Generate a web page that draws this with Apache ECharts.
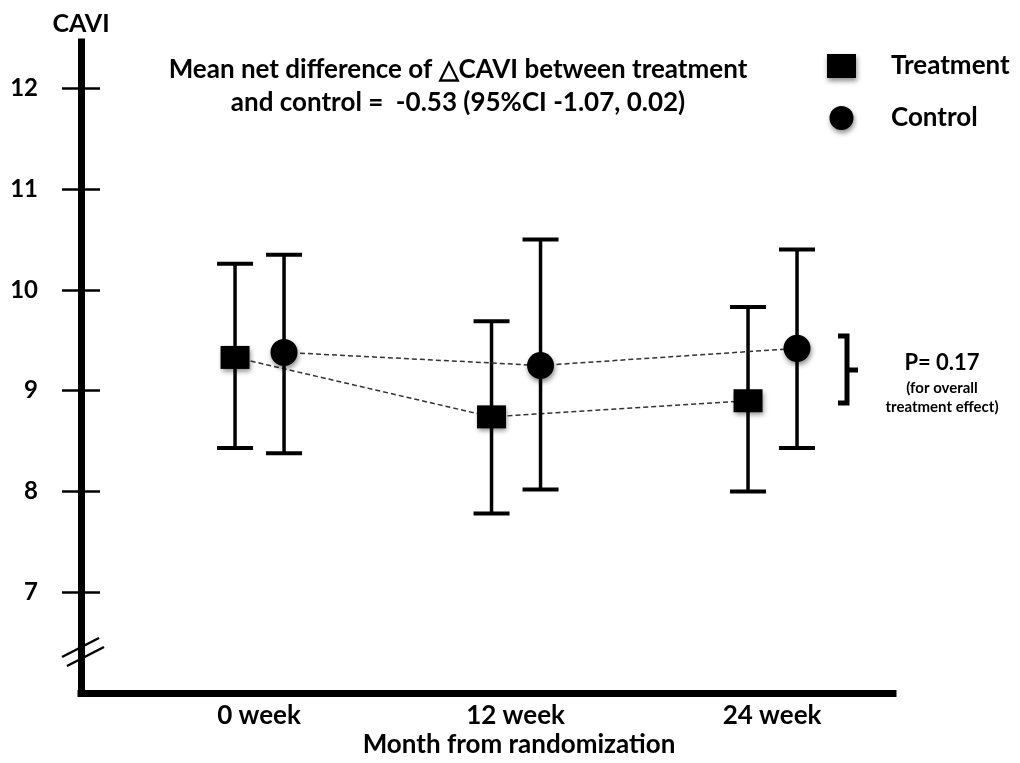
<!DOCTYPE html>
<html>
<head>
<meta charset="utf-8">
<script src="https://cdn.jsdelivr.net/npm/echarts@6/dist/echarts.min.js"></script>
<style>
  html, body { margin: 0; padding: 0; background: #fff; }
  #chart { width: 1020px; height: 763px; }
</style>
</head>
<body>
<div id="chart"></div>
<script>
// visit weeks and group summaries (mean with CI)
const weeks = [0, 12, 24];
const weekLabels = ['0 week', '12 week', '24 week'];
const yTicks = [7, 8, 9, 10, 11, 12];

const treatMean = [9.33, 8.74, 8.90];
const treatLow = [8.43, 7.78, 8.00];
const treatHigh = [10.26, 9.69, 9.83];

const ctrlMean = [9.38, 9.25, 9.42];
const ctrlLow = [8.38, 8.02, 8.43];
const ctrlHigh = [10.35, 10.50, 10.40];

const FONT = 'Lato';

const chart = echarts.init(document.getElementById('chart'));

function rows(mean, low, high) {
    return weeks.map((w, i) => [w, mean[i], low[i], high[i]]);
}

// draws error bar + marker, plus dashed segment to the next visit
function renderer(mean, shape, shift) {
    return function (params, api) {
        const i = params.dataIndex;
        const p = api.coord([api.value(0), api.value(1)]);
        const x = p[0] + shift;
        const yLo = api.coord([api.value(0), api.value(2)])[1];
        const yHi = api.coord([api.value(0), api.value(3)])[1];
        const children = [];
        if (i < weeks.length - 1) {
            const n = api.coord([weeks[i + 1], mean[i + 1]]);
            children.push({
                type: 'line',
                shape: { x1: x, y1: p[1], x2: n[0] + shift, y2: n[1] },
                style: { stroke: '#333', lineWidth: 1.5, lineDash: [5, 3] }
            });
        }
        const bar = { stroke: '#000', lineWidth: 3.5 };
        children.push(
            { type: 'line', shape: { x1: x, y1: yLo, x2: x, y2: yHi }, style: bar },
            { type: 'line', shape: { x1: x - 18, y1: yHi, x2: x + 18, y2: yHi }, style: { stroke: '#000', lineWidth: 4 } },
            { type: 'line', shape: { x1: x - 18, y1: yLo, x2: x + 18, y2: yLo }, style: { stroke: '#000', lineWidth: 4 } }
        );
        const shadow = { fill: '#000', shadowBlur: 5, shadowColor: 'rgba(0,0,0,0.45)', shadowOffsetX: 1, shadowOffsetY: 3 };
        if (shape === 'rect') {
            children.push({ type: 'rect', shape: { x: x - 14.5, y: p[1] - 11.5, width: 29, height: 23 }, style: shadow });
        } else {
            children.push({ type: 'circle', shape: { cx: x, cy: p[1], r: 13.5 }, style: shadow });
        }
        return { type: 'group', children: children };
    };
}

const yCommon = { type: 'value', min: 6, max: 12.46, splitLine: { show: false } };

const option = {
    backgroundColor: '#fff',
    color: ['#000', '#000'],
    animation: false,
    grid: { left: 81, right: 127, top: 42, bottom: 70 },
    legend: {
        orient: 'vertical',
        left: 827,
        top: 53,
        padding: 0,
        itemWidth: 29,
        itemHeight: 24,
        itemGap: 26,
        data: [{ name: 'Treatment', icon: 'rect' }, { name: 'Control', icon: 'circle' }],
        itemStyle: { color: '#000', shadowBlur: 5, shadowColor: 'rgba(0,0,0,0.45)', shadowOffsetX: 1, shadowOffsetY: 3 },
        textStyle: { fontFamily: FONT, fontWeight: 'bold', fontSize: 26, color: '#000', padding: [0, 0, 0, 30] },
        selectedMode: false
    },
    xAxis: {
        type: 'value',
        min: -8.33,
        max: 29.66,
        splitLine: { show: false },
        axisTick: { show: false },
        axisLine: { onZero: false, lineStyle: { color: '#000', width: 7, cap: 'square' } },
        axisLabel: {
            customValues: weeks,
            formatter: v => weekLabels[weeks.indexOf(v)],
            margin: 10,
            fontFamily: FONT, fontWeight: 'bold', fontSize: 26, color: '#000'
        }
    },
    yAxis: [
        Object.assign({}, yCommon, {
            name: 'CAVI',
            nameLocation: 'end',
            nameGap: 6,
            nameTextStyle: { fontFamily: FONT, fontWeight: 'bold', fontSize: 25, color: '#000', align: 'center' },
            axisLine: { show: true, onZero: false, lineStyle: { color: '#000', width: 7, cap: 'square' } },
            axisTick: { show: true, customValues: yTicks, length: 19, lineStyle: { color: '#000', width: 2.5 } },
            axisLabel: {
                customValues: yTicks, margin: 43,
                fontFamily: FONT, fontWeight: 'bold', fontSize: 24, color: '#000'
            }
        }),
        Object.assign({}, yCommon, {
            position: 'left',
            axisLine: { show: false, onZero: false },
            axisTick: { show: true, inside: true, customValues: yTicks, length: 19, lineStyle: { color: '#000', width: 2.5 } },
            axisLabel: { show: false }
        })
    ],
    graphic: [
        { type: 'text', x: 458, y: 70, style: { text: 'Mean net difference of \u25B3CAVI between treatment', font: 'bold 26px ' + FONT, fill: '#000', align: 'center', verticalAlign: 'middle' } },
        { type: 'text', x: 458, y: 103, style: { text: 'and control =  -0.53 (95%CI -1.07, 0.02)', font: 'bold 26px ' + FONT, fill: '#000', align: 'center', verticalAlign: 'middle' } },
        { type: 'text', x: 519, y: 745, style: { text: 'Month from randomization', font: 'bold 26px ' + FONT, fill: '#000', align: 'center', verticalAlign: 'middle' } },
        { type: 'text', x: 942, y: 363, style: { text: 'P= 0.17', font: 'bold 22px ' + FONT, fill: '#000', align: 'center', verticalAlign: 'middle' } },
        { type: 'text', x: 942, y: 388, style: { text: '(for overall', font: 'bold 15px ' + FONT, fill: '#000', align: 'center', verticalAlign: 'middle' } },
        { type: 'text', x: 942, y: 407, style: { text: 'treatment effect)', font: 'bold 15px ' + FONT, fill: '#000', align: 'center', verticalAlign: 'middle' } },
        // curly bracket beside the 24 week pair
        { type: 'polyline', shape: { points: [[838, 336], [847, 336], [847, 403], [838, 403]] }, style: { stroke: '#000', lineWidth: 5, fill: null } },
        { type: 'line', shape: { x1: 847, y1: 370, x2: 858, y2: 370 }, style: { stroke: '#000', lineWidth: 5 } },
        // axis break marks
        { type: 'line', shape: { x1: 62, y1: 657, x2: 99, y2: 638 }, style: { stroke: '#000', lineWidth: 2.5 } },
        { type: 'line', shape: { x1: 67, y1: 666, x2: 104, y2: 647 }, style: { stroke: '#000', lineWidth: 2.5 } }
    ],
    series: [
        {
            name: 'Treatment',
            type: 'custom',
            clip: false,
            itemStyle: { color: '#000' },
            encode: { x: 0, y: [1, 2, 3] },
            renderItem: renderer(treatMean, 'rect', -24),
            data: rows(treatMean, treatLow, treatHigh)
        },
        {
            name: 'Control',
            type: 'custom',
            clip: false,
            itemStyle: { color: '#000' },
            encode: { x: 0, y: [1, 2, 3] },
            renderItem: renderer(ctrlMean, 'circle', 25),
            data: rows(ctrlMean, ctrlLow, ctrlHigh)
        }
    ]
};

chart.setOption(option);
</script>
</body>
</html>
